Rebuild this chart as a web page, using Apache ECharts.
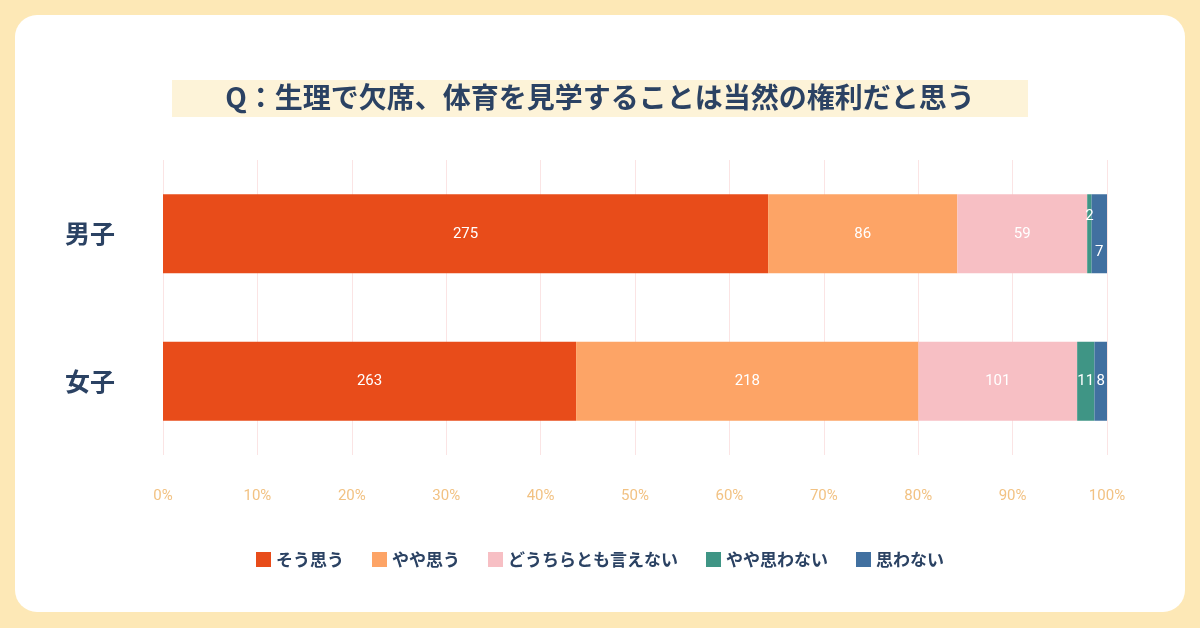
<!DOCTYPE html>
<html><head><meta charset="utf-8">
<script src="https://cdn.jsdelivr.net/npm/echarts@6/dist/echarts.min.js"></script>
<style>html,body{margin:0;background:#fde8b6;}#c{width:1200px;height:628px;}</style>
</head><body><div id="c"></div>
<script>
var categories = ['男子', '女子'];
var seriesNames = ['そう思う', 'やや思う', 'どうちらとも言えない', 'やや思わない', '思わない'];
var counts = [
	[275, 263],
	[86, 218],
	[59, 101],
	[2, 11],
	[7, 8]
];
var colors = ['#e84c1a', '#fda466', '#f7bfc4', '#3f9585', '#4170a0'];
var totals = categories.map(function (c, i) {
	return counts.reduce(function (s, arr) { return s + arr[i]; }, 0);
});
var font = '"Noto Sans CJK JP", sans-serif';

var series = seriesNames.map(function (name, k) {
	return {
		name: name, type: 'bar', stack: 'all', barWidth: 79,
		itemStyle: { color: colors[k] },
		label: {
			show: true, position: 'inside', color: '#fff', fontSize: 15, fontFamily: 'Roboto, sans-serif',
			formatter: function (p) { return counts[k][p.dataIndex]; }
		},
		data: counts[k].map(function (v, i) {
			var d = { value: v / totals[i] * 100 };
			if (k === 3 && i === 0) d.label = { offset: [0, -18] };
			if (k === 4 && i === 0) d.label = { offset: [0, 18] };
			return d;
		})
	};
});

var chart = echarts.init(document.getElementById('c'));
chart.setOption({
	backgroundColor: '#fde8b6',
	graphic: [
		{ type: 'rect', shape: { x: 15, y: 15, width: 1170, height: 597, r: 22 }, style: { fill: '#fff' }, z: -10 },
		{ type: 'rect', shape: { x: 172, y: 80, width: 856, height: 37 }, style: { fill: '#fdf3d8' }, z: -5 },
		{ type: 'text', x: 600, y: 97, style: { text: 'Q：生理で欠席、体育を見学することは当然の権利だと思う', font: 'bold 28px ' + font, fill: '#2b4263', align: 'center', verticalAlign: 'middle' } }
	],
	grid: { left: 163, right: 93, top: 160, bottom: 173 },
	xAxis: {
		type: 'value', min: 0, max: 100, interval: 10,
		axisLabel: { formatter: '{value}%', color: '#f2c283', fontSize: 15, margin: 34, fontFamily: 'Roboto, sans-serif' },
		splitLine: { lineStyle: { color: '#fbe4e4' } },
		axisLine: { show: false }, axisTick: { show: false }
	},
	yAxis: {
		type: 'category', data: categories, inverse: true,
		axisLabel: { fontSize: 25, fontWeight: 'bold', color: '#2b4263', fontFamily: font, margin: 48 },
		axisLine: { show: false }, axisTick: { show: false }
	},
	legend: {
		bottom: 55, left: 'center', itemWidth: 15, itemHeight: 15, itemGap: 28, icon: 'rect',
		textStyle: { fontSize: 17, fontWeight: 'bold', color: '#2b4263', fontFamily: font }
	},
	series: series
});
</script></body></html>
